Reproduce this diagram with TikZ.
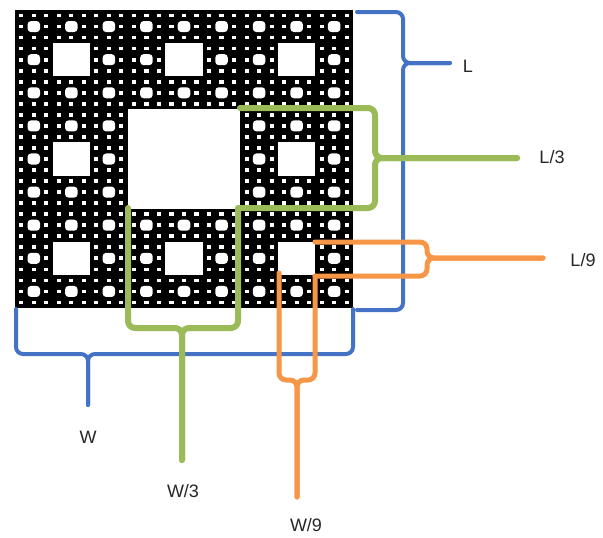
\documentclass[tikz,border=0pt]{standalone}
\usepackage{fontspec}
\setmainfont{Liberation Sans}
\definecolor{bblue}{HTML}{4472C4}
\definecolor{ggreen}{HTML}{9BBB59}
\definecolor{oorange}{HTML}{F79646}
\begin{document}
\begin{tikzpicture}[x=1pt,y=-1pt,
  brace/.style={line width=4pt, rounded corners=7pt, line join=round, line cap=round},
  bluebrace/.style={brace, draw=bblue, line width=4pt},
  greenbrace/.style={brace, draw=ggreen, line width=6pt},
  orangebrace/.style={brace, draw=oorange, line width=5pt},
  lab/.style={font=\fontsize{18}{20}\selectfont, text=black!85, inner sep=0pt}]
\useasboundingbox (0,0) rectangle (603,538);
\fill[white] (0,0) rectangle (603,538);
\def\P{0/0,0/1,0/2,1/0,1/2,2/0,2/1,2/2}
% carpet
\fill[black] (15,10) rectangle (353,308);
\fill[white] ({15+338/3},{10+298/3}) rectangle ++({338/3},{298/3});
\foreach \a/\b in \P {
  \fill[white] ({15+\a*338/3+338/9},{10+\b*298/3+298/9}) rectangle ++({338/9},{298/9});
  \foreach \c/\d in \P {
    \fill[white, rounded corners=3.5pt] ({15+\a*338/3+\c*338/9+338/27},{10+\b*298/3+\d*298/9+298/27}) rectangle ++({338/27},{298/27});
    \foreach \e/\f in \P {
      \fill[white] ({15+\a*338/3+\c*338/9+\e*338/27+338/81},{10+\b*298/3+\d*298/9+\f*298/27+298/81}) rectangle ++({338/81},{298/81});
    }
  }
}
% labels
\node[lab] (Llab) at (468,66) {L};
\node[lab] (L3lab) at (552,157) {L/3};
\node[lab] (L9lab) at (583,260) {L/9};
\node[lab] (Wlab) at (88,437) {W};
\node[lab] (W3lab) at (183,491) {W/3};
\node[lab] (W9lab) at (306,525) {W/9};
% blue braces
\coordinate (Ltop) at (357,12);
\coordinate (Lbot) at (357,310);
\coordinate (Ltip) at (450,63);
\draw[bluebrace] (Ltop) -| (403,63) -- (Ltip);
\draw[bluebrace] (Ltip) -- (403,63) |- (Lbot);
\coordinate (Wl) at (16,309);
\coordinate (Wr) at (353,309);
\coordinate (Wtip) at (88,405);
\draw[bluebrace] (Wl) |- (88,354) -- (Wtip);
\draw[bluebrace] (Wtip) -- (88,354) -| (Wr);
% green braces
\coordinate (G1) at (240,108);
\coordinate (G2) at (240,208);
\coordinate (Gtip) at (517,158);
\draw[greenbrace] (G1) -| (375,158) -- (Gtip);
\draw[greenbrace] (Gtip) -- (375,158) |- (G2);
\coordinate (G3) at (128,208);
\coordinate (G4) at (238,208);
\coordinate (G5) at (182,460);
\draw[greenbrace] (G3) |- (182,328) -- (G5);
\draw[greenbrace] (G5) -- (182,328) -| (G4);
% orange braces
\coordinate (O1) at (315,242);
\coordinate (O2) at (315,276);
\coordinate (Otip) at (543,258);
\draw[orangebrace] (O1) -| (427,258) -- (Otip);
\draw[orangebrace] (Otip) -- (427,258) |- (O2);
\coordinate (O3) at (279,273);
\coordinate (O4) at (297,497);
\draw[orangebrace] (O3) |- (297,380) -- (O4);
\draw[orangebrace] (O4) -- (297,380) -| (O2);
\end{tikzpicture}
\end{document}
